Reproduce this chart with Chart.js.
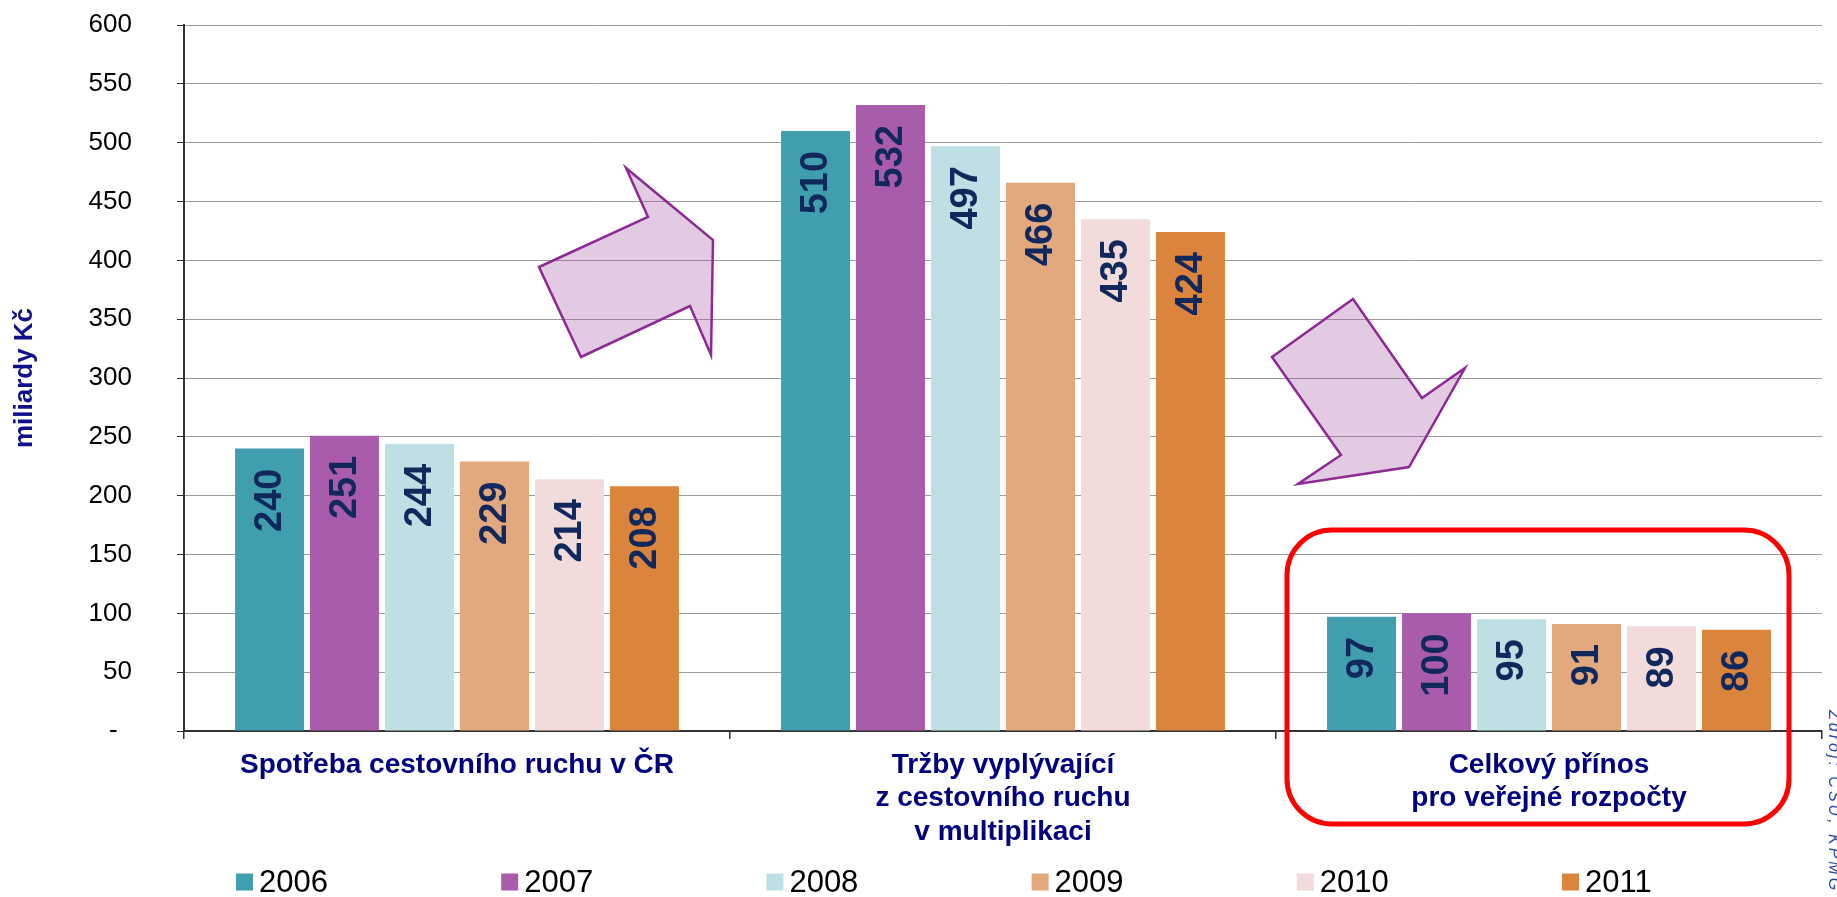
<!DOCTYPE html>
<html><head><meta charset="utf-8">
<script src="https://cdn.jsdelivr.net/npm/chart.js@4.4.1/dist/chart.umd.min.js"></script>
<style>html,body{margin:0;padding:0;background:#fff}canvas{display:block}</style>
</head><body>
<canvas id="c" width="1837" height="897"></canvas>
<script>
// ---- data ----
const categories = [
  ["Spotřeba cestovního ruchu v ČR"],
  ["Tržby vyplývající", "z cestovního ruchu", "v multiplikaci"],
  ["Celkový přínos", "pro veřejné rozpočty"]
];
const years = ["2006", "2007", "2008", "2009", "2010", "2011"];
const v2006 = [240, 510, 97];
const v2007 = [251, 532, 100];
const v2008 = [244, 497, 95];
const v2009 = [229, 466, 91];
const v2010 = [214, 435, 89];
const v2011 = [208, 424, 86];
const yMin = 0, yMax = 600, yStep = 50;
const yTitle = "miliardy Kč";
const sourceText = "Zdroj: ČSÚ, KPMG";

// ---- styles ----
const colors = ["#409eaf", "#a85caa", "#bedfe4", "#e2a87e", "#f2dcdb", "#db843d"];
const FONT = '"Liberation Sans", Arial, sans-serif';
Chart.defaults.font.family = FONT;

const seriesValues = [v2006, v2007, v2008, v2009, v2010, v2011];

const arrowsPlugin = {
  id: 'arrows',
  beforeDatasetsDraw(chart) {
    const ctx = chart.ctx;
    const shapes = [
      [[539,267],[648,217],[626,168],[713,240],[711,355],[690,306],[581,357]],
      [[1272,357],[1353,299],[1422,398],[1465,368],[1409,467],[1298,484],[1341,455]]
    ];
    ctx.save();
    shapes.forEach(p => {
      ctx.beginPath();
      p.forEach((pt, i) => i ? ctx.lineTo(pt[0], pt[1]) : ctx.moveTo(pt[0], pt[1]));
      ctx.closePath();
      ctx.fillStyle = 'rgba(160,80,160,0.30)';
      ctx.fill();
      ctx.lineWidth = 2.5;
      ctx.lineJoin = 'miter';
      ctx.strokeStyle = '#8e2a93';
      ctx.stroke();
    });
    ctx.restore();
  }
};

const labelsPlugin = {
  id: 'barLabels',
  afterDatasetsDraw(chart) {
    const ctx = chart.ctx;
    ctx.save();
    ctx.fillStyle = '#10285c';
    ctx.font = 'bold 38px ' + FONT;
    ctx.textAlign = 'right';
    ctx.textBaseline = 'middle';
    chart.data.datasets.forEach((ds, di) => {
      const meta = chart.getDatasetMeta(di);
      meta.data.forEach((bar, i) => {
        ctx.save();
        ctx.translate(bar.x, bar.y + 20);
        ctx.rotate(-Math.PI / 2);
        ctx.fillText(String(ds.data[i]), 0, 1);
        ctx.restore();
      });
    });
    ctx.restore();
  }
};

const overlayPlugin = {
  id: 'overlay',
  afterDraw(chart) {
    const ctx = chart.ctx;
    ctx.save();
    // legend
    const startX = 236, step = 265.2, ly = 882, box = 17;
    ctx.font = '31px ' + FONT;
    ctx.textBaseline = 'middle';
    ctx.textAlign = 'left';
    chart.data.datasets.forEach((ds, i) => {
      const x = startX + i * step;
      ctx.fillStyle = ds.backgroundColor;
      ctx.fillRect(x, ly - box / 2, box, box);
      ctx.fillStyle = '#000';
      ctx.fillText(ds.label, x + 23, ly + 1);
    });
    // red rounded box
    const x0 = 1287, y0 = 530, x1 = 1789, y1 = 824, r = 45;
    ctx.beginPath();
    ctx.moveTo(x0 + r, y0);
    ctx.arcTo(x1, y0, x1, y1, r);
    ctx.arcTo(x1, y1, x0, y1, r);
    ctx.arcTo(x0, y1, x0, y0, r);
    ctx.arcTo(x0, y0, x1, y0, r);
    ctx.closePath();
    ctx.lineWidth = 5;
    ctx.strokeStyle = '#ff0000';
    ctx.stroke();
    // source
    ctx.save();
    ctx.translate(1825, 710);
    ctx.rotate(Math.PI / 2);
    ctx.font = 'italic 16px ' + FONT;
    if ('letterSpacing' in ctx) ctx.letterSpacing = '3px';
    ctx.fillStyle = '#2a4aa0';
    ctx.textAlign = 'left';
    ctx.textBaseline = 'bottom';
    ctx.fillText(sourceText, 0, 0);
    ctx.restore();
    ctx.restore();
  }
};

new Chart(document.getElementById('c'), {
  type: 'bar',
  data: {
    labels: categories,
    datasets: years.map((y, i) => ({
      label: y,
      data: seriesValues[i],
      backgroundColor: colors[i],
      borderWidth: 0,
      categoryPercentage: 0.824,
      barPercentage: 0.92
    }))
  },
  options: {
    responsive: false,
    devicePixelRatio: 1,
    animation: false,
    layout: { padding: { top: 25, right: 15, left: 0, bottom: 0 } },
    plugins: { legend: { display: false }, tooltip: { enabled: false } },
    scales: {
      x: {
        grid: { display: true, drawOnChartArea: false, drawTicks: true, tickLength: 8, color: '#333', lineWidth: 1.5, offset: true },
        border: { display: true, color: '#333', width: 2 },
        ticks: { color: '#000080', font: { size: 28, weight: 'bold', lineHeight: 1.2 }, padding: 9, maxRotation: 0, autoSkip: false },
        afterFit(s) { s.height = 166; }
      },
      y: {
        min: yMin, max: yMax,
        ticks: { stepSize: yStep, color: '#000', font: { size: 26 }, padding: 45,
          callback: v => v === 0 ? '-  ' : String(v) },
        grid: { color: '#9c9c9c', lineWidth: 1, tickLength: 7, tickColor: '#333', drawTicks: true },
        border: { color: '#333', width: 2 },
        title: { display: true, text: yTitle, color: '#10108f', font: { size: 26, weight: 'bold' }, padding: { top: 9, bottom: 0 } },
        afterFit(s) { s.width = 184; s.paddingTop = 15; s.paddingBottom = 15; }
      }
    }
  },
  plugins: [arrowsPlugin, labelsPlugin, overlayPlugin]
});
</script>
</body></html>
